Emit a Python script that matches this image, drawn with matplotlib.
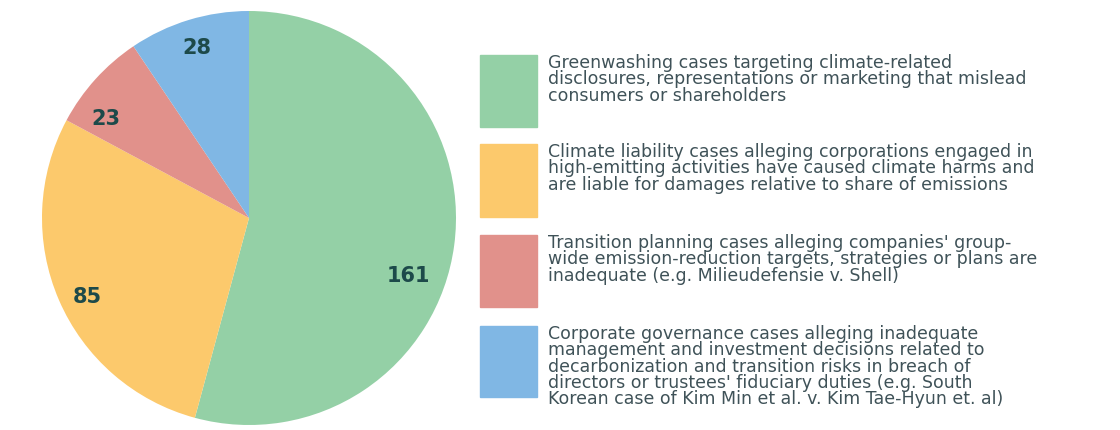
import matplotlib.pyplot as plt
from matplotlib.patches import Rectangle

# Case counts by category
categories = [
    "Greenwashing cases targeting climate-related\ndisclosures, representations or marketing that mislead\nconsumers or shareholders",
    "Climate liability cases alleging corporations engaged in\nhigh-emitting activities have caused climate harms and\nare liable for damages relative to share of emissions",
    "Transition planning cases alleging companies' group-\nwide emission-reduction targets, strategies or plans are\ninadequate (e.g. Milieudefensie v. Shell)",
    "Corporate governance cases alleging inadequate\nmanagement and investment decisions related to\ndecarbonization and transition risks in breach of\ndirectors or trustees' fiduciary duties (e.g. South\nKorean case of Kim Min et al. v. Kim Tae-Hyun et. al)",
]
counts = [161, 85, 23, 28]
colors = ["#94d0a6", "#fcc96c", "#e1918b", "#80b7e4"]

W, H = 1120, 430
fig = plt.figure(figsize=(W / 100, H / 100), dpi=100)

# Pie axes: centre (249, 218) px, radius 207 px
cx, cy, r = 249, 218, 207
ax = fig.add_axes([(cx - r) / W, (H - cy - r) / H, 2 * r / W, 2 * r / H])
total = sum(counts)
wedges, texts, autotexts = ax.pie(
    counts, colors=colors, startangle=90, counterclock=False,
    autopct=lambda p: f"{round(p * total / 100)}", pctdistance=0.86,
    textprops=dict(fontsize=15, fontweight="bold", color="#1d4a4a"),
    wedgeprops=dict(linewidth=0),
)
# push the big slice's number lower, toward the right edge
autotexts[0].set_position((0.77, -0.28))
autotexts[1].set_position((-0.78, -0.38))
autotexts[2].set_position((-0.69, 0.48))
ax.set_xlim(-1, 1)
ax.set_ylim(-1, 1)

# Legend: colour swatches with wrapped descriptions
box_tops = [55, 144, 235, 326]
box_h = [72, 73, 72, 71]
for top, h, col, label in zip(box_tops, box_h, colors, categories):
    fig.patches.append(Rectangle((480 / W, (H - top - h) / H), 57 / W, h / H,
                                 transform=fig.transFigure, color=col))
    fig.text(548 / W, (H - top + 1) / H, label, ha="left", va="top",
             fontsize=12.5, family="DejaVu Sans", color="#3f5258",
             linespacing=0.88)

fig.savefig("out.png", dpi=100, facecolor="white")
